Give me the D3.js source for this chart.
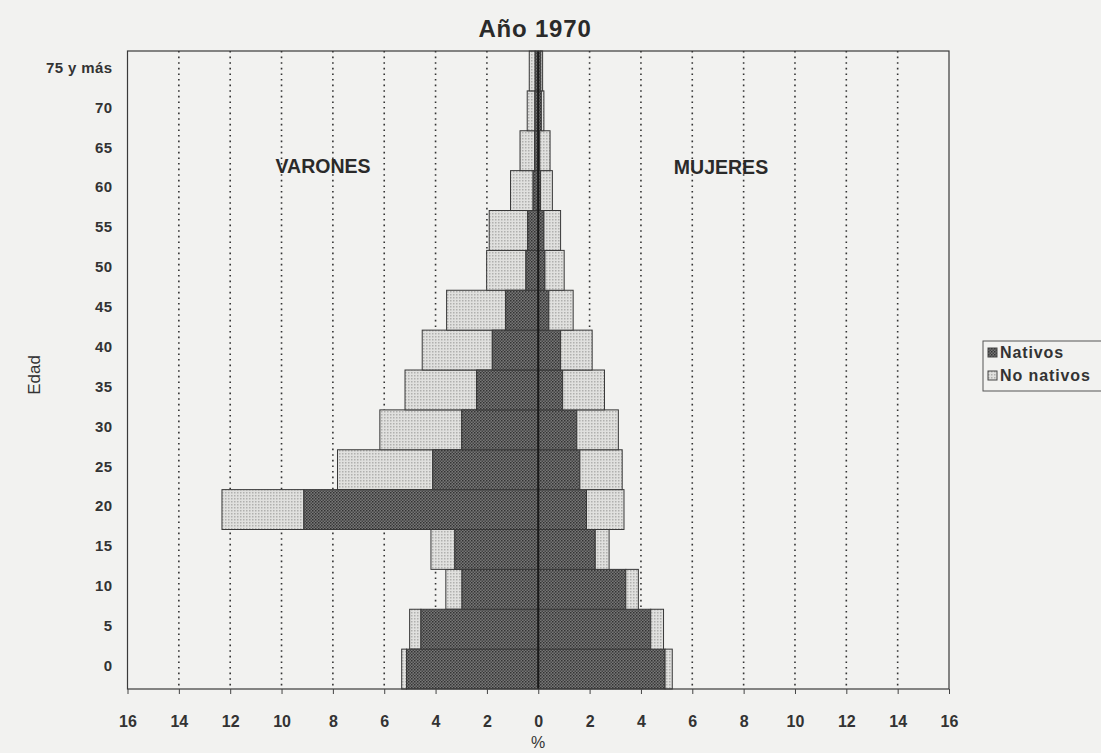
<!DOCTYPE html>
<html>
<head>
<meta charset="utf-8">
<script src="https://cdn.jsdelivr.net/npm/d3@7"></script>
<style>
  body { margin: 0; background: #f2f2f0; }
  svg { display: block; font-family: "Liberation Sans", Arial, sans-serif; }
</style>
</head>
<body>
<svg id="chart" width="1101" height="753"></svg>
<script>
// age groups, bottom to top
const ages = ["0", "5", "10", "15", "20", "25", "30", "35", "40", "45", "50", "55", "60", "65", "70", "75 y más"];

// % of total population, men (varones)
const varonesNativos   = [5.13, 4.57, 2.97, 3.25, 9.13, 4.11, 2.98, 2.40, 1.79, 1.27, 0.48, 0.41, 0.20, 0.14, 0.13, 0.12];
const varonesNoNativos = [0.19, 0.44, 0.63, 0.93, 3.19, 3.71, 3.19, 2.79, 2.73, 2.30, 1.53, 1.50, 0.88, 0.57, 0.30, 0.23];

// % of total population, women (mujeres)
const mujeresNativos   = [4.94, 4.38, 3.41, 2.22, 1.88, 1.62, 1.50, 0.95, 0.87, 0.41, 0.26, 0.22, 0.09, 0.06, 0.12, 0.10];
const mujeresNoNativos = [0.28, 0.50, 0.49, 0.54, 1.46, 1.65, 1.62, 1.63, 1.23, 0.95, 0.75, 0.65, 0.46, 0.40, 0.10, 0.07];

const xTicks = [-16, -14, -12, -10, -8, -6, -4, -2, 0, 2, 4, 6, 8, 10, 12, 14, 16];

const svg = d3.select("#chart");

const x = d3.scaleLinear().domain([-16, 16]).range([127.5, 949]);
const y = d3.scaleBand().domain(ages).range([689, 51]).padding(0);

// patterns to mimic the printed screens
const defs = svg.append("defs");
const pDark = defs.append("pattern")
    .attr("id", "pDark").attr("width", 3).attr("height", 3)
    .attr("patternUnits", "userSpaceOnUse");
pDark.append("rect").attr("width", 3).attr("height", 3).attr("fill", "#777");
pDark.append("rect").attr("width", 1.5).attr("height", 1.5).attr("fill", "#333");
pDark.append("rect").attr("x", 1.5).attr("y", 1.5).attr("width", 1.5).attr("height", 1.5).attr("fill", "#444");

const pLight = defs.append("pattern")
    .attr("id", "pLight").attr("width", 3).attr("height", 3)
    .attr("patternUnits", "userSpaceOnUse");
pLight.append("rect").attr("width", 3).attr("height", 3).attr("fill", "#e0e0de");
pLight.append("rect").attr("width", 1.5).attr("height", 1.5).attr("fill", "#b0b0ae");

// dotted gridlines
svg.append("g")
    .selectAll("line")
    .data(xTicks.filter(d => d !== 0 && Math.abs(d) !== 16))
    .join("line")
    .attr("x1", d => x(d)).attr("x2", d => x(d))
    .attr("y1", 51).attr("y2", 689)
    .attr("stroke", "#333")
    .attr("stroke-width", 1.6)
    .attr("stroke-dasharray", "1.6,4");

// build rows
const rows = ages.map((a, i) => ({
    age: a,
    vn: varonesNativos[i], vnn: varonesNoNativos[i],
    mn: mujeresNativos[i], mnn: mujeresNoNativos[i]
}));

const bars = svg.append("g")
    .attr("stroke", "#383838")
    .attr("stroke-width", 1);

// varones: natives inner, non-natives outer
bars.selectAll("rect.vnn")
    .data(rows).join("rect").attr("class", "vnn")
    .attr("x", d => x(-(d.vn + d.vnn)))
    .attr("width", d => x(-d.vn) - x(-(d.vn + d.vnn)))
    .attr("y", d => y(d.age)).attr("height", y.bandwidth())
    .attr("fill", "url(#pLight)");

bars.selectAll("rect.vn")
    .data(rows).join("rect").attr("class", "vn")
    .attr("x", d => x(-d.vn))
    .attr("width", d => x(0) - x(-d.vn))
    .attr("y", d => y(d.age)).attr("height", y.bandwidth())
    .attr("fill", "url(#pDark)");

// mujeres
bars.selectAll("rect.mn")
    .data(rows).join("rect").attr("class", "mn")
    .attr("x", x(0))
    .attr("width", d => x(d.mn) - x(0))
    .attr("y", d => y(d.age)).attr("height", y.bandwidth())
    .attr("fill", "url(#pDark)");

bars.selectAll("rect.mnn")
    .data(rows).join("rect").attr("class", "mnn")
    .attr("x", d => x(d.mn))
    .attr("width", d => x(d.mn + d.mnn) - x(d.mn))
    .attr("y", d => y(d.age)).attr("height", y.bandwidth())
    .attr("fill", "url(#pLight)");

// zero line
svg.append("line")
    .attr("x1", x(0)).attr("x2", x(0))
    .attr("y1", 51).attr("y2", 689)
    .attr("stroke", "#1a1a1a").attr("stroke-width", 2);

// plot frame
svg.append("rect")
    .attr("x", x(-16)).attr("y", 51)
    .attr("width", x(16) - x(-16)).attr("height", 638)
    .attr("fill", "none").attr("stroke", "#3a3a3a").attr("stroke-width", 1.2);

// x axis
const xAxis = svg.append("g")
    .attr("transform", "translate(0,689)")
    .call(d3.axisBottom(x).tickValues(xTicks).tickFormat(d => Math.abs(d)).tickSize(5).tickSizeOuter(0));
xAxis.select(".domain").remove();
xAxis.selectAll("line").attr("stroke", "#444");
xAxis.selectAll("text")
    .attr("font-size", 16).attr("font-weight", "bold")
    .attr("fill", "#333").attr("y", 0).attr("dy", 0)
    .attr("transform", "translate(0,38)");

// y axis
const yAxis = svg.append("g")
    .attr("transform", "translate(127.5,0)")
    .call(d3.axisLeft(y).tickSize(0).tickPadding(15));
yAxis.select(".domain").remove();
yAxis.selectAll("text")
    .attr("font-size", 15).attr("font-weight", "bold")
    .attr("letter-spacing", 0.4)
    .attr("fill", "#333")
    .attr("transform", "translate(0,-3)");

// titles
svg.append("text")
    .attr("x", 535).attr("y", 37)
    .attr("text-anchor", "middle")
    .attr("font-size", 24).attr("font-weight", "bold")
    .attr("letter-spacing", 0.8)
    .attr("fill", "#2a2a2a")
    .text("Año 1970");

svg.append("text")
    .attr("x", 538).attr("y", 748)
    .attr("text-anchor", "middle")
    .attr("font-size", 16)
    .attr("fill", "#333")
    .text("%");

svg.append("text")
    .attr("transform", "translate(40,375) rotate(-90)")
    .attr("text-anchor", "middle")
    .attr("font-size", 17)
    .attr("fill", "#333")
    .text("Edad");

svg.append("text")
    .attr("x", 323).attr("y", 173)
    .attr("text-anchor", "middle")
    .attr("font-size", 19.5).attr("font-weight", "bold")
    .attr("fill", "#2a2a2a")
    .text("VARONES");

svg.append("text")
    .attr("x", 721).attr("y", 174)
    .attr("text-anchor", "middle")
    .attr("font-size", 19.5).attr("font-weight", "bold")
    .attr("fill", "#2a2a2a")
    .text("MUJERES");

// legend
const legendItems = [
    { label: "Nativos", fill: "url(#pDark)" },
    { label: "No nativos", fill: "url(#pLight)" }
];
const legend = svg.append("g").attr("transform", "translate(983,341)");
legend.append("rect")
    .attr("width", 125).attr("height", 50)
    .attr("fill", "#f2f2f0").attr("stroke", "#555").attr("stroke-width", 1);
const li = legend.selectAll("g.item")
    .data(legendItems).join("g").attr("class", "item")
    .attr("transform", (d, i) => `translate(5,${7 + i * 23})`);
li.append("rect")
    .attr("width", 9).attr("height", 9)
    .attr("fill", d => d.fill).attr("stroke", "#444");
li.append("text")
    .attr("x", 12).attr("y", 10)
    .attr("font-size", 16).attr("font-weight", "bold")
    .attr("letter-spacing", 0.9)
    .attr("fill", "#333")
    .text(d => d.label);
</script>
</body>
</html>
